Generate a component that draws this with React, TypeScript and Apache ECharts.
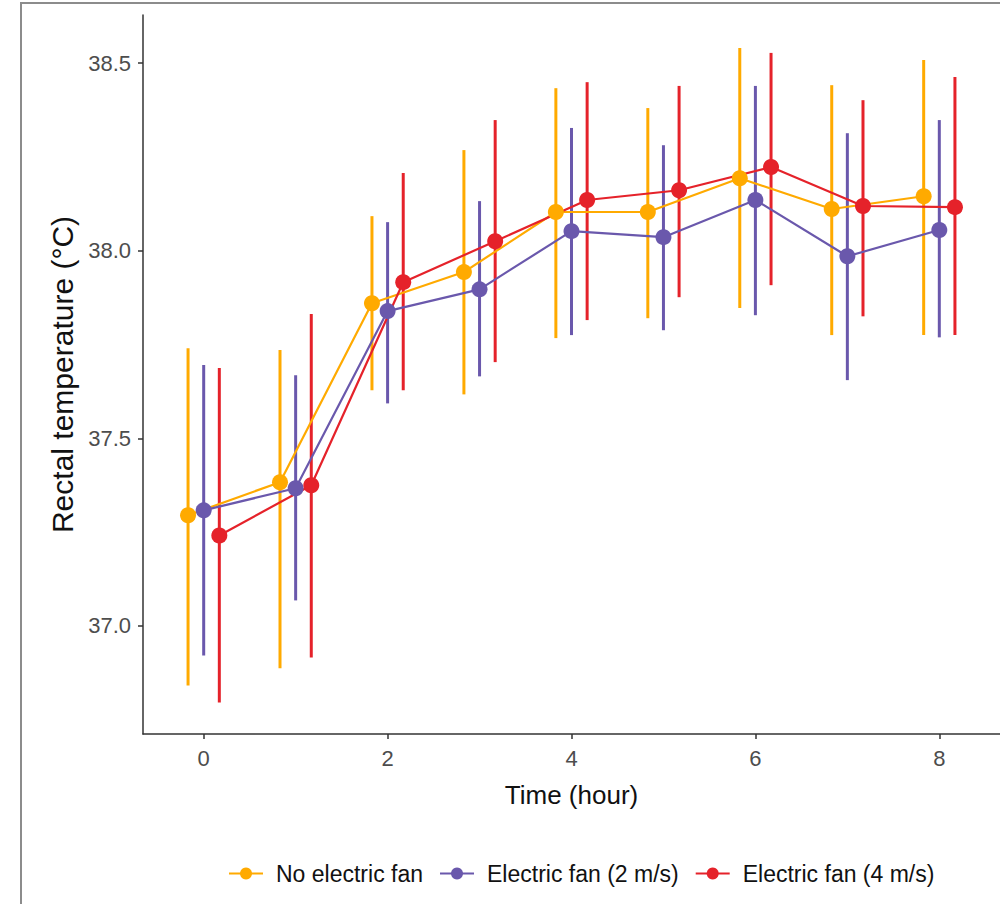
import React, { useEffect, useRef } from "react";
import * as echarts from "echarts";

const times = [0, 1, 2, 3, 4, 5, 6, 7, 8];
const seriesNames = ["No electric fan", "Electric fan (2 m/s)", "Electric fan (4 m/s)"];

const noFanMean = [37.295, 37.383, 37.86, 37.943, 38.103, 38.103, 38.193, 38.111, 38.145];
const noFanLow = [36.841, 36.887, 37.628, 37.617, 37.767, 37.82, 37.847, 37.775, 37.775];
const noFanHigh = [37.74, 37.735, 38.092, 38.268, 38.433, 38.38, 38.54, 38.441, 38.508];

const fan2Mean = [37.308, 37.367, 37.839, 37.897, 38.052, 38.036, 38.135, 37.985, 38.055];
const fan2Low = [36.921, 37.068, 37.593, 37.665, 37.775, 37.788, 37.828, 37.655, 37.769];
const fan2High = [37.695, 37.668, 38.076, 38.132, 38.327, 38.281, 38.439, 38.313, 38.348];

const fan4Mean = [37.241, 37.375, 37.916, 38.025, 38.135, 38.161, 38.223, 38.119, 38.116];
const fan4Low = [36.796, 36.916, 37.628, 37.703, 37.815, 37.876, 37.908, 37.825, 37.775];
const fan4High = [37.687, 37.831, 38.207, 38.348, 38.449, 38.439, 38.527, 38.401, 38.463];

const xTicks = [0, 2, 4, 6, 8];
const yTicks = [37.0, 37.5, 38.0, 38.5];

const colors = ["#FFAA00", "#6A58AC", "#E5222A"];
const dodge = [-0.17, 0, 0.17];
const FONT = "'Liberation Sans', Arial, sans-serif";

export default function App() {
  const ref = useRef<HTMLDivElement>(null);
  useEffect(() => {
    if (!ref.current) return;
    const chart = echarts.init(ref.current, undefined, { renderer: "svg" });
    const groups = [
      { mean: noFanMean, low: noFanLow, high: noFanHigh },
      { mean: fan2Mean, low: fan2Low, high: fan2High },
      { mean: fan4Mean, low: fan4Low, high: fan4High },
    ];
    const series: any[] = [];
    groups.forEach((g, i) => {
      series.push({
        type: "line",
        name: seriesNames[i],
        z: 3,
        data: times.map((t, k) => [t + dodge[i], g.mean[k]]),
        symbol: "circle",
        symbolSize: 16,
        showSymbol: true,
        lineStyle: { color: colors[i], width: 2.2 },
        itemStyle: { color: colors[i] },
      });
    });
    groups.forEach((g, i) => {
      series.push({
        type: "custom",
        name: seriesNames[i],
        z: 1,
        data: times.map((t, k) => [t + dodge[i], g.low[k], g.high[k]]),
        renderItem: (params: any, api: any) => {
          const p1 = api.coord([api.value(0), api.value(1)]);
          const p2 = api.coord([api.value(0), api.value(2)]);
          return {
            type: "line",
            shape: { x1: p1[0], y1: p1[1], x2: p2[0], y2: p2[1] },
            style: { stroke: colors[i], lineWidth: 3 },
          };
        },
        encode: { x: 0, y: [1, 2] },
      });
    });
    chart.setOption({
      animation: false,
      backgroundColor: "#ffffff",
      color: colors,
      grid: { left: 143, right: 0, top: 15, height: 719 },
      xAxis: {
        type: "value",
        min: -0.66,
        max: 8.66,
        splitLine: { show: false },
        axisLine: { show: true, onZero: false, lineStyle: { color: "#333333", width: 1.5 } },
        axisTick: { show: true, length: 5, lineStyle: { color: "#333333", width: 1.5 }, customValues: xTicks },
        axisLabel: {
          customValues: xTicks,
          color: "#4D4D4D",
          fontSize: 22,
          fontFamily: FONT,
          margin: 13,
        },
        name: "Time (hour)",
        nameLocation: "middle",
        nameGap: 48,
        nameTextStyle: { color: "#111111", fontSize: 26, fontFamily: FONT },
      },
      yAxis: {
        type: "value",
        min: 36.712,
        max: 38.628,
        splitLine: { show: false },
        axisLine: { show: true, onZero: false, lineStyle: { color: "#333333", width: 1.5 } },
        axisTick: { show: true, length: 5, lineStyle: { color: "#333333", width: 1.5 }, customValues: yTicks },
        axisLabel: {
          customValues: yTicks,
          color: "#4D4D4D",
          fontSize: 22,
          fontFamily: FONT,
          margin: 12,
          formatter: (v: number) => v.toFixed(1),
        },
        name: "Rectal temperature (°C)",
        nameLocation: "middle",
        nameGap: 62,
        nameRotate: 90,
        nameTextStyle: { color: "#111111", fontSize: 30, fontFamily: FONT },
      },
      legend: {
        data: seriesNames.map((n) => ({ name: n })),
        bottom: 14,
        left: 223,
        itemWidth: 34,
        itemHeight: 15,
        itemGap: 16,
        textStyle: { color: "#111111", fontSize: 23, fontFamily: FONT, padding: [0, 0, 0, 8] },
      },
      graphic: [
        {
          type: "rect",
          shape: { x: 21, y: 3, width: 1200, height: 1200 },
          style: { fill: "none", stroke: "#8C8C8C", lineWidth: 2 },
          silent: true,
        },
      ],
      series,
    });
    return () => chart.dispose();
  }, []);
  return (
    <div
      ref={ref}
      style={{ position: "absolute", left: 0, top: 0, width: 1000, height: 904, background: "#fff" }}
    />
  );
}
